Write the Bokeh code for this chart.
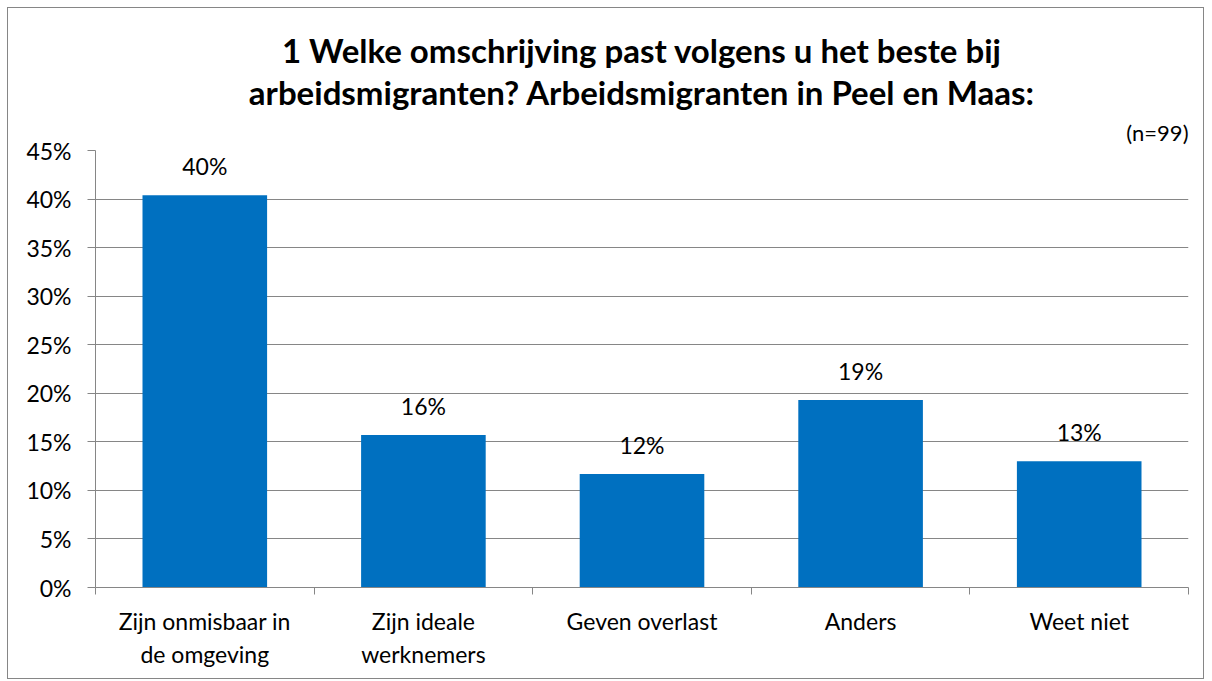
from bokeh.plotting import figure
from bokeh.models import (Range1d, FixedTicker, LinearAxis, NumeralTickFormatter,
                          Title, ColumnDataSource, LabelSet, Grid)
from bokeh.core.properties import value
from bokeh.embed import file_html
from bokeh.resources import INLINE

categories = ["Zijn onmisbaar in\nde omgeving", "Zijn ideale\nwerknemers",
              "Geven overlast", "Anders", "Weet niet"]
values = [0.404, 0.157, 0.117, 0.193, 0.130]
value_labels = ["40%", "16%", "12%", "19%", "13%"]
y_ticks = [0.0, 0.05, 0.10, 0.15, 0.20, 0.25, 0.30, 0.35, 0.40, 0.45]
title_line1 = "1 Welke omschrijving past volgens u het beste bij"
title_line2 = "arbeidsmigranten? Arbeidsmigranten in Peel en Maas:"
note = "(n=99)"

FONT = "Lato"
GRAY = "#868686"
BLUE = "#0070C0"

n = len(categories)
centers = [i + 0.5 for i in range(n)]
boundaries = list(range(n + 1))

src = ColumnDataSource(dict(x=centers, top=values, lab=value_labels))

p = figure(width=1197, height=672, x_range=Range1d(0, n), y_range=Range1d(0, 0.45),
           output_backend="svg", toolbar_location=None,
           x_axis_type=None, y_axis_type=None, title=None)
p.styles = {"border": "1px solid #868686", "margin-left": "7px", "margin-top": "7px"}
p.min_border_left = 87
p.min_border_right = 17
p.min_border_top = 142
p.min_border_bottom = 93
p.outline_line_color = None
p.background_fill_color = "white"
p.border_fill_color = "white"
p.xgrid.visible = False
p.ygrid.visible = False

p.vbar(x="x", top="top", width=0.57, source=src, fill_color=BLUE, line_color=None)

# y axis
yax = LinearAxis(ticker=FixedTicker(ticks=y_ticks),
                 formatter=NumeralTickFormatter(format="0%"))
yax.axis_line_color = GRAY
yax.major_tick_line_color = GRAY
yax.major_tick_out = 8
yax.major_tick_in = 0
yax.minor_tick_line_color = None
yax.major_label_text_font = FONT
yax.major_label_text_font_size = "23px"
yax.major_label_text_color = "black"
yax.major_label_standoff = 16
p.add_layout(yax, "left")

# x axis with boundary ticks
xax = LinearAxis(ticker=FixedTicker(ticks=boundaries))
xax.major_label_overrides = {b: "" for b in boundaries}
xax.axis_line_color = GRAY
xax.major_tick_line_color = GRAY
xax.major_tick_out = 7
xax.major_tick_in = 0
xax.minor_tick_line_color = None
xax.major_label_text_font_size = "1px"
xax.major_label_standoff = 0
p.add_layout(xax, "below")

# category label axis
cax = LinearAxis(ticker=FixedTicker(ticks=centers))
cax.major_label_overrides = {c: lab for c, lab in zip(centers, categories)}
cax.axis_line_color = None
cax.major_tick_line_color = None
cax.minor_tick_line_color = None
cax.major_label_text_font = FONT
cax.major_label_text_font_size = "23px"
cax.major_label_text_color = "black"
cax.major_label_standoff = 6
p.add_layout(cax, "below")

g = Grid(dimension=1, ticker=FixedTicker(ticks=y_ticks), grid_line_color=GRAY, grid_line_width=1)
p.add_layout(g)

labels = LabelSet(x="x", y="top", text="lab", source=src, text_align="center",
                  text_baseline="alphabetic", y_offset=20, text_font=value(FONT),
                  text_font_size="23px", text_color="black")
p.add_layout(labels)

t3 = Title(text=note, align="right", text_font=FONT, text_font_size="22px",
           text_font_style="normal", text_color="black", standoff=10)
t2 = Title(text=title_line2, align="center", text_font=FONT, text_font_size="33px",
           text_font_style="bold", text_color="black", standoff=0)
t1 = Title(text=title_line1, align="center", text_font=FONT, text_font_size="33px",
           text_font_style="bold", text_color="black", standoff=0)
p.add_layout(t3, "above")
p.add_layout(t2, "above")
p.add_layout(t1, "above")

open("out.html", "w").write(file_html(p, INLINE))
